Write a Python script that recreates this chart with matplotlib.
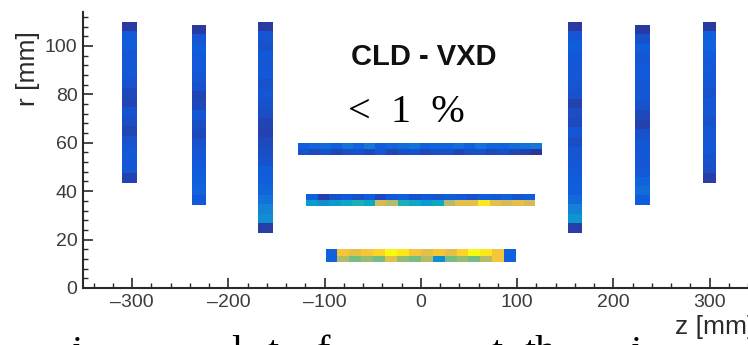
import numpy as np
import matplotlib
matplotlib.use("Agg")
import matplotlib.pyplot as plt
from matplotlib.colors import LinearSegmentedColormap
from matplotlib.ticker import MultipleLocator

# ---------------- data ----------------
# endcap disks: z range, r range and occupancy per r-bin (inner -> outer)
disk_z0 = [-310, -238, -169, 153, 223, 293]
disk_z1 = [-295, -223, -154, 168, 238, 307]
disk_rmin = [43.4, 34.3, 22.7, 22.7, 34.3, 43.4]
disk_rmax = [110.0, 108.7, 110.0, 110.0, 108.7, 110.0]
disk1 = [0.06, 0.11, 0.12, 0.11, 0.10, 0.07, 0.09, 0.10, 0.07, 0.08, 0.10, 0.11, 0.12, 0.11, 0.13, 0.12, 0.04]
disk2 = [0.12, 0.15, 0.14, 0.13, 0.12, 0.11, 0.10, 0.08, 0.09, 0.11, 0.08, 0.07, 0.10, 0.11, 0.12, 0.12, 0.13, 0.11, 0.04]
disk3 = [0.05, 0.30, 0.26, 0.20, 0.16, 0.14, 0.13, 0.10, 0.09, 0.08, 0.06, 0.07, 0.09, 0.10, 0.11, 0.10, 0.12, 0.11, 0.12, 0.10, 0.11, 0.04]
disk4 = [0.05, 0.33, 0.25, 0.17, 0.14, 0.13, 0.12, 0.11, 0.11, 0.09, 0.11, 0.08, 0.09, 0.06, 0.10, 0.11, 0.12, 0.11, 0.12, 0.13, 0.11, 0.04]
disk5 = [0.13, 0.18, 0.15, 0.12, 0.11, 0.12, 0.11, 0.10, 0.06, 0.08, 0.10, 0.11, 0.11, 0.12, 0.12, 0.11, 0.13, 0.10, 0.04]
disk6 = [0.05, 0.09, 0.10, 0.11, 0.11, 0.11, 0.10, 0.11, 0.11, 0.10, 0.11, 0.12, 0.12, 0.13, 0.15, 0.14, 0.04]
disk_vals = [disk1, disk2, disk3, disk4, disk5, disk6]

# barrel layers: z range, r range (inner, middle, outer edge) and two rows of occupancy along z
barrel_z0 = [-128, -119, -99]
barrel_z1 = [126, 119, 99]
barrel_r = [[55.0, 57.5, 60.0], [33.9, 36.4, 38.8], [10.7, 13.4, 16.1]]
outer_top = [0.13, 0.15, 0.18, 0.14, 0.20, 0.15, 0.22, 0.13, 0.15, 0.18, 0.20, 0.14, 0.16, 0.15, 0.19, 0.14, 0.20, 0.16, 0.15, 0.18, 0.20, 0.22]
outer_bot = [0.10, 0.08, 0.10, 0.07, 0.09, 0.10, 0.08, 0.11, 0.07, 0.09, 0.10, 0.08, 0.09, 0.10, 0.07, 0.09, 0.10, 0.08, 0.09, 0.07, 0.06, 0.03]
middle_top = [0.14, 0.05, 0.10, 0.12, 0.10, 0.13, 0.08, 0.12, 0.14, 0.10, 0.12, 0.11, 0.13, 0.12, 0.10, 0.13, 0.12, 0.14, 0.11, 0.13]
middle_bot = [0.35, 0.30, 0.35, 0.40, 0.45, 0.40, 0.75, 0.70, 0.45, 0.40, 0.35, 0.40, 0.70, 0.80, 0.80, 0.95, 0.80, 0.75, 0.80, 0.75]
inner_top = [0.15, 0.85, 0.80, 0.85, 0.90, 1.00, 0.95, 0.85, 0.80, 0.85, 0.80, 0.90, 1.00, 0.95, 0.85, 0.15]
inner_bot = [0.15, 0.70, 0.60, 0.65, 0.60, 0.80, 0.65, 0.60, 0.70, 0.30, 0.60, 0.65, 0.60, 0.70, 0.85, 0.15]
barrel_top = [outer_top, middle_top, inner_top]
barrel_bot = [outer_bot, middle_bot, inner_bot]

x_ticks = [-300, -200, -100, 0, 100, 200, 300]
y_ticks = [0, 20, 40, 60, 80, 100]

# ---------------- style ----------------
stops = [0.0, 0.125, 0.25, 0.375, 0.5, 0.625, 0.75, 0.875, 1.0]
red = [0.2082, 0.0592, 0.0780, 0.0232, 0.1802, 0.5301, 0.8186, 0.9956, 0.9764]
green = [0.1664, 0.3599, 0.5041, 0.6419, 0.7178, 0.7492, 0.7328, 0.7862, 0.9832]
blue = [0.5293, 0.8684, 0.8385, 0.7914, 0.6425, 0.4662, 0.3499, 0.1968, 0.0539]
bird = LinearSegmentedColormap.from_list(
    "bird", list(zip(stops, zip(red, green, blue))))

W, H = 748, 345
fig = plt.figure(figsize=(W / 100, H / 100), dpi=100)
ax = fig.add_axes([83 / W, 1 - 288 / H, 1 - 83 / W, (288 - 12) / H])
ax.set_xlim(-351, 340)
ax.set_ylim(0, 114)

for z0, z1, r0, r1, v in zip(disk_z0, disk_z1, disk_rmin, disk_rmax, disk_vals):
    redges = np.linspace(r0, r1, len(v) + 1)
    ax.pcolormesh([z0, z1], redges, np.array(v)[:, None], cmap=bird,
                  vmin=0, vmax=1, shading="flat")

for z0, z1, rr, top, bot in zip(barrel_z0, barrel_z1, barrel_r, barrel_top, barrel_bot):
    zedges = np.linspace(z0, z1, len(top) + 1)
    ax.pcolormesh(zedges, rr, np.vstack([bot, top]), cmap=bird,
                  vmin=0, vmax=1, shading="flat")

for s in ["top", "right"]:
    ax.spines[s].set_visible(False)
for s in ["left", "bottom"]:
    ax.spines[s].set_linewidth(1.5)
    ax.spines[s].set_color("#2a2a2a")

ax.set_xticks(x_ticks)
ax.set_yticks(y_ticks)
ax.set_xticklabels([str(t).replace("-", "\u2013") for t in x_ticks])
ax.xaxis.set_minor_locator(MultipleLocator(20))
ax.yaxis.set_minor_locator(MultipleLocator(4))
ax.tick_params(which="major", direction="in", length=7, width=1.2,
               color="#2a2a2a", labelsize=14, labelcolor="#3c3c3c", pad=4)
ax.tick_params(which="minor", direction="in", length=3.5, width=1.0,
               color="#2a2a2a")
for lab in ax.get_xticklabels() + ax.get_yticklabels():
    lab.set_family("Liberation Sans")

fig.text(28 / W, 1 - 69 / H, "r [mm]", rotation=90, ha="center", va="center",
         fontsize=19, family="Liberation Sans", color="#2a2a2a")
fig.text(754 / W, 1 - 327 / H, "z [mm]", ha="right", va="center",
         fontsize=19, family="Liberation Sans", color="#2a2a2a")

fig.text(424 / W, 1 - 57 / H, "CLD - VXD", ha="center", va="center",
         fontsize=21, fontweight="bold", family="Liberation Sans", color="#111111")
fig.text(406 / W, 1 - 112 / H, "<  1  %", ha="center", va="center",
         fontsize=29, family="Liberation Serif", color="black")

# top of a slide text line that is cut off at the bottom edge
for ch, xp in [("i", 77), ("l", 237), ("t", 273), ("f", 323), ("t", 497), ("th", 540), ("i", 636)]:
    fig.text(xp / W, 1 - 363 / H, ch, ha="center", va="baseline",
             fontsize=29, family="Liberation Serif", color="black")

fig.savefig("out.png", dpi=100)
